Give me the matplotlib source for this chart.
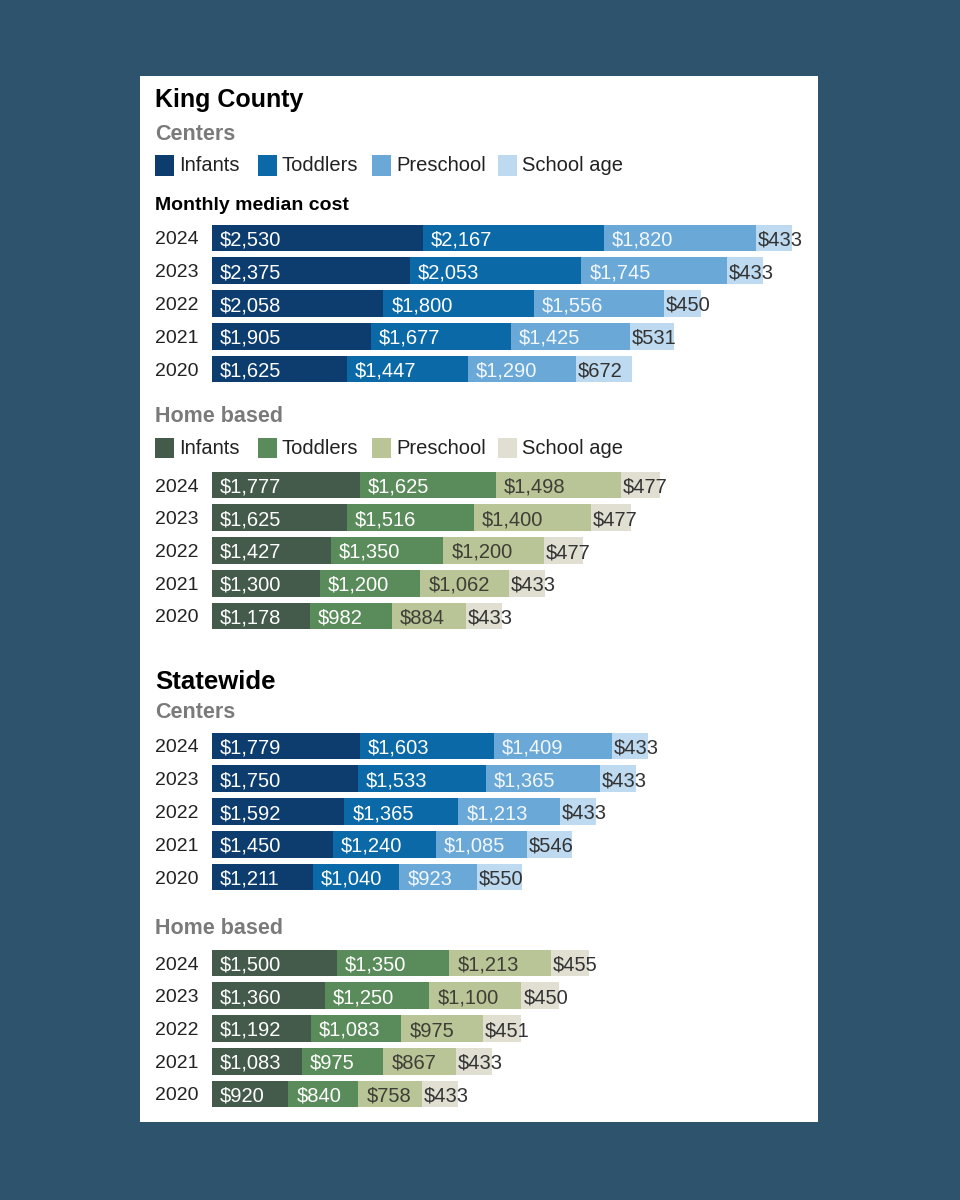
import matplotlib
matplotlib.use('Agg')
import matplotlib.pyplot as plt
from matplotlib.patches import Rectangle

plt.rcParams['font.family'] = ['Liberation Sans', 'DejaVu Sans']

W, H = 960, 1200

years = ['2024', '2023', '2022', '2021', '2020']
groups = ['Infants', 'Toddlers', 'Preschool', 'School age']

# King County, centers
king_center_infants = [2530, 2375, 2058, 1905, 1625]
king_center_toddlers = [2167, 2053, 1800, 1677, 1447]
king_center_preschool = [1820, 1745, 1556, 1425, 1290]
king_center_school = [433, 433, 450, 531, 672]

# King County, home based
king_home_infants = [1777, 1625, 1427, 1300, 1178]
king_home_toddlers = [1625, 1516, 1350, 1200, 982]
king_home_preschool = [1498, 1400, 1200, 1062, 884]
king_home_school = [477, 477, 477, 433, 433]

# Statewide, centers
state_center_infants = [1779, 1750, 1592, 1450, 1211]
state_center_toddlers = [1603, 1533, 1365, 1240, 1040]
state_center_preschool = [1409, 1365, 1213, 1085, 923]
state_center_school = [433, 433, 433, 546, 550]

# Statewide, home based
state_home_infants = [1500, 1360, 1192, 1083, 920]
state_home_toddlers = [1350, 1250, 1083, 975, 840]
state_home_preschool = [1213, 1100, 975, 867, 758]
state_home_school = [455, 450, 451, 433, 433]

center_colors = ['#0c3d6e', '#0a69a6', '#6aa8d8', '#bddaf0']
center_text = ['white', 'white', '#f2f7fc', '#333333']
home_colors = ['#445a4a', '#5a8b5a', '#b9c597', '#e1ded2']
home_text = ['white', 'white', '#3e3e36', '#333333']

bg = '#2d546c'
gray = '#7a7a7a'

XMAX = 7000
PX_PER_DOLLAR = 0.0835
AX_LEFT = 211.5
ROW = 32.75


def fx(x):
    return x / W


def fy(y):
    return 1 - y / H


fig = plt.figure(figsize=(W / 100, H / 100), dpi=100, facecolor=bg)

# white panel behind everything
fig.patches.append(Rectangle((fx(140), fy(1122)), fx(818) - fx(140), fy(76) - fy(1122),
                             transform=fig.transFigure, facecolor='white',
                             edgecolor='none', zorder=-5))


def heading(y, text, size, color='black'):
    fig.text(fx(155), fy(y), text, fontsize=size, fontweight='bold', color=color,
             ha='left', va='center')


def legend(y, colors):
    xs = [155, 258, 372, 498]
    for x, c, name in zip(xs, colors, groups):
        fig.patches.append(Rectangle((fx(x), fy(y + 10)), fx(19), 20 / H,
                                     transform=fig.transFigure, facecolor=c,
                                     edgecolor='none', zorder=2))
        fig.text(fx(x + 24), fy(y), name, fontsize=14.5, color='#222222',
                 ha='left', va='center')


def stacked(top_center, series, colors, text_colors):
    height = ROW * 5
    top = top_center - ROW / 2
    ax = fig.add_axes([fx(AX_LEFT), fy(top + height), XMAX * PX_PER_DOLLAR / W, height / H])
    ax.set_zorder(3)
    ax.set_xlim(0, XMAX)
    ax.set_ylim(4.5, -0.5)
    ax.patch.set_alpha(0)
    for s in ax.spines.values():
        s.set_visible(False)
    ax.set_xticks([])
    ax.set_yticks(range(len(years)))
    ax.set_yticklabels(years, fontsize=14, color='#222222')
    ax.tick_params(axis='y', length=0, pad=9)

    lefts = [0] * len(years)
    for k, (vals, c, tc) in enumerate(zip(series, colors, text_colors)):
        ax.barh(range(len(years)), vals, left=lefts, height=0.82, color=c,
                edgecolor='none')
        off = 1.5 if k == 3 else 5.8
        for i, v in enumerate(vals):
            ax.annotate(f'${v:,}', xy=(lefts[i], i), xytext=(off, 0),
                        textcoords='offset points', ha='left', va='center_baseline',
                        fontsize=14.5, color=tc, annotation_clip=False)
        lefts = [a + b for a, b in zip(lefts, vals)]
    return ax


heading(100, 'King County', 18)
heading(134, 'Centers', 15.5, gray)
legend(165.5, center_colors)
heading(206, 'Monthly median cost', 14)
stacked(238, [king_center_infants, king_center_toddlers,
              king_center_preschool, king_center_school],
        center_colors, center_text)

heading(417, 'Home based', 15.5, gray)
legend(448, home_colors)
stacked(485, [king_home_infants, king_home_toddlers,
              king_home_preschool, king_home_school],
        home_colors, home_text)

heading(682, 'Statewide', 18.5)
heading(713, 'Centers', 15.5, gray)
stacked(746, [state_center_infants, state_center_toddlers,
              state_center_preschool, state_center_school],
        center_colors, center_text)

heading(928, 'Home based', 15.5, gray)
stacked(963, [state_home_infants, state_home_toddlers,
              state_home_preschool, state_home_school],
        home_colors, home_text)

fig.savefig('out.png', dpi=100, facecolor=bg)
